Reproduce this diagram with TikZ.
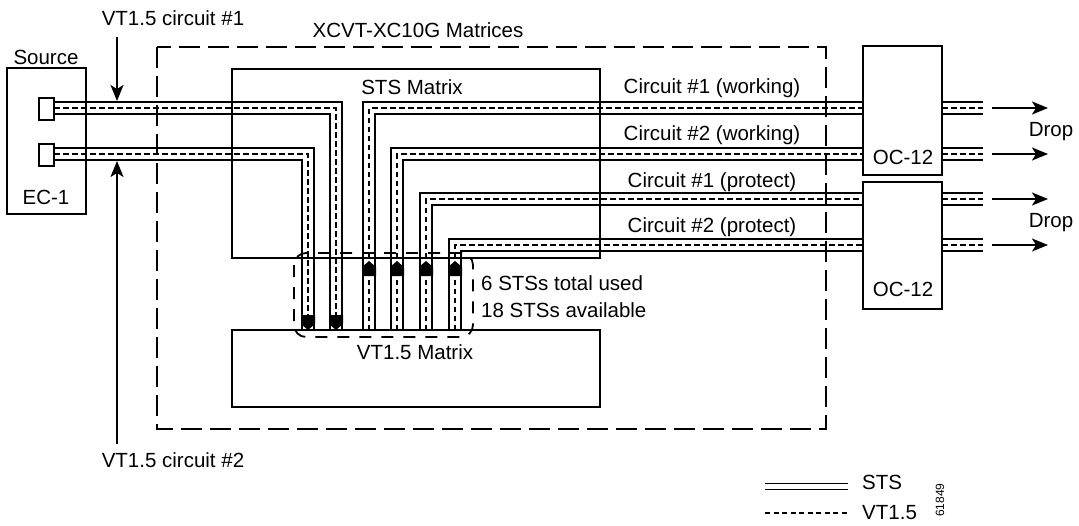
\documentclass[tikz,border=0pt]{standalone}
\usepackage{fontspec}
\setmainfont{Liberation Sans}
\usetikzlibrary{arrows.meta}
\begin{document}
\begin{tikzpicture}[x=1pt,y=-1pt,
  every node/.style={inner sep=0pt,font=\fontsize{20.5}{24}\selectfont},
  box/.style={draw,line width=2pt,fill=none},
  pipe/.style={draw,line width=2pt,double=white,double distance=10pt},
  pipec/.style={draw,line width=2pt,dash pattern=on 5.5pt off 3.5pt},
  outerdash/.style={draw,line width=2pt,dash pattern=on 21pt off 8pt},
  seldash/.style={draw,line width=1.8pt,dash pattern=on 12pt off 10pt,rounded corners=12pt},
  harrow/.style={line width=1.8pt,-{Stealth[length=16pt,width=13pt,inset=4pt]}},
]
\useasboundingbox (0,0) rectangle (1079,525);

% coordinates of pipe ends
\coordinate (s1) at (54,108);
\coordinate (s2) at (54,154);
\coordinate (v1) at (336,330);
\coordinate (v2) at (308,330);
\coordinate (va) at (369,330);
\coordinate (vb) at (397,330);
\coordinate (vc) at (426,330);
\coordinate (vd) at (455,330);
\coordinate (oa) at (863,108);
\coordinate (ob) at (863,154);
\coordinate (oc) at (863,199);
\coordinate (od) at (863,245);
\coordinate (ra) at (942,108);
\coordinate (rb) at (942,154);
\coordinate (rc) at (942,199);
\coordinate (rd) at (942,245);
\coordinate (ea) at (983,108);
\coordinate (eb) at (983,154);
\coordinate (ec) at (983,199);
\coordinate (ed) at (983,245);

% pipes
\foreach \a/\b in {s1/v1,s2/v2}{
  \path[pipe] (\a) -| (\b);
  \path[pipec] (\a) -| (\b);
}
\foreach \a/\b in {va/oa,vb/ob,vc/oc,vd/od}{
  \path[pipe] (\a) |- (\b);
  \path[pipec] (\a) |- (\b);
}
\foreach \a/\b in {ra/ea,rb/eb,rc/ec,rd/ed}{
  \path[pipe] (\a) -- (\b);
  \path[pipec] (\a) -- (\b);
}

% boxes
\node[box,minimum width=79pt,minimum height=146pt] (source) at (46.5,141) {};
\node[box,fill=white,minimum width=15pt,minimum height=22pt] (port1) at (46.5,108.5) {};
\node[box,fill=white,minimum width=15pt,minimum height=22pt] (port2) at (46.5,154.5) {};
\node[box,minimum width=368pt,minimum height=189pt] (sts) at (416,163.5) {};
\node[box,minimum width=368pt,minimum height=77pt] (vt) at (416,368.5) {};
\node[box,fill=white,minimum width=79pt,minimum height=129pt] (oc1) at (902.5,110.5) {};
\node[box,fill=white,minimum width=79pt,minimum height=127pt] (oc2) at (902.5,245.5) {};
\path[outerdash] (157,47) rectangle (826,429);
\path[seldash] (294,253) rectangle (473,337);

% arrowheads inside pipes
\foreach \x in {369,397,426,455}{
  \fill (\x,261) -- (\x+7,267) -- (\x+7,276) -- (\x-7,276) -- (\x-7,267) -- cycle;
}
\foreach \x in {308,336}{
  \fill (\x-7,315) -- (\x+7,315) -- (\x+7,324) -- (\x,330) -- (\x-7,324) -- cycle;
}

% labels
\node (lsource) at (46,57) {Source};
\node (lec) at (46,197) {EC-1};
\node (lxc) at (418,30) {XCVT-XC10G Matrices};
\node (lsts) at (412,87) {STS Matrix};
\node (lvt) at (415,352) {VT1.5 Matrix};
\node (lc1) at (173,18) {VT1.5 circuit \#1};
\node (lc2) at (173,460) {VT1.5 circuit \#2};
\node (cw1) at (712,88) {Circuit \#1 (working)};
\node (cw2) at (712,135) {Circuit \#2 (working)};
\node (cp1) at (712,182) {Circuit \#1 (protect)};
\node (cp2) at (712,227) {Circuit \#2 (protect)};
\node (lo1) at (903,157) {OC-12};
\node (lo2) at (903,289) {OC-12};
\node (drop1) at (1051,132) {Drop};
\node (drop2) at (1051,223) {Drop};
\node[anchor=west] (used) at (481,283) {6 STSs total used};
\node[anchor=west] (avail) at (481,310) {18 STSs available};

% VT1.5 circuit arrows
\coordinate (c1s) at (117,37);
\coordinate (c1e) at (117,101);
\coordinate (c2s) at (117,444);
\coordinate (c2e) at (117,161);
\draw[harrow] (c1s) -- (c1e);
\draw[harrow] (c2s) -- (c2e);

% drop arrows
\foreach \y in {108,154,199,245}{
  \coordinate (d\y s) at (992,\y);
  \coordinate (d\y e) at (1048,\y);
  \draw[harrow] (d\y s) -- (d\y e);
}

% legend
\coordinate (l1a) at (765,483.5);
\coordinate (l1b) at (848,483.5);
\coordinate (l2a) at (765,489.5);
\coordinate (l2b) at (848,489.5);
\coordinate (l3a) at (765,513);
\coordinate (l3b) at (848,513);
\draw[line width=1.8pt] (l1a) -- (l1b);
\draw[line width=1.8pt] (l2a) -- (l2b);
\draw[line width=1.8pt,dash pattern=on 5pt off 3.5pt] (l3a) -- (l3b);
\node[anchor=west] (lgsts) at (862,482) {STS};
\node[anchor=west] (lgvt) at (862,513) {VT1.5};
\node[rotate=90,font=\fontsize{12}{14}\selectfont] (fig) at (940,500) {61849};
\end{tikzpicture}
\end{document}
